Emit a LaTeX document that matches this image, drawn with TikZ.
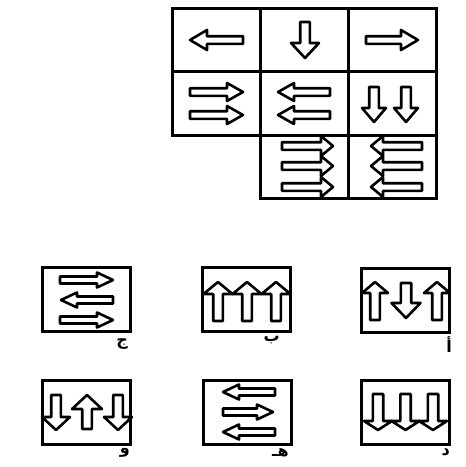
\documentclass[tikz,border=0pt]{standalone}
\usepackage{fontspec}
\usepackage{tikz}
\usetikzlibrary{positioning}
\TeXXeTstate=1
\newfontfamily\arabicfont[Script=Arabic]{DejaVu Sans}

% block arrow: tail, angle, length, shaft half width, head half width, head length
\newcommand{\blockarrow}[6]{%
	\draw[arrowline, shift={#1}, rotate=#2] (0,-#4) -- ({#3-#6},-#4) -- ({#3-#6},-#5) -- (#3,0)
		-- ({#3-#6},#5) -- ({#3-#6},#4) -- (0,#4) -- cycle;}

\begin{document}
\begin{tikzpicture}[x=1pt, y=-1pt,
		cell/.style={draw, line width=3pt, minimum width=88pt, minimum height=63.5pt, inner sep=0pt, outer sep=0pt},
		choice/.style={draw, line width=3pt, minimum width=88pt, minimum height=64pt, inner sep=0pt},
		arrowline/.style={draw, fill=white, line width=2.6pt, line join=round},
		lbl/.style={font=\arabicfont\bfseries\fontsize{16}{16}\selectfont, inner sep=0pt}]
		\useasboundingbox (0,0) rectangle (466,467);

		% the grid
		\node[cell] (g11) at (216,39.75) {};
		\node[cell, right=0pt of g11] (g12) {};
		\node[cell, right=0pt of g12] (g13) {};
		\node[cell, below=0pt of g11] (g21) {};
		\node[cell, below=0pt of g12] (g22) {};
		\node[cell, below=0pt of g13] (g23) {};
		\node[cell, below=0pt of g22] (g32) {};
		\node[cell, below=0pt of g23] (g33) {};

		\blockarrow{(243,40)}{180}{53}{3.8}{10}{17}
		\blockarrow{(305,22)}{-90}{36}{4.8}{14}{15}
		\blockarrow{(366,40)}{0}{52}{3.8}{10}{17}
		\foreach \y in {92,115} {
			\blockarrow{(190,\y)}{0}{53}{3.8}{9}{16}
			\blockarrow{(330,\y)}{180}{52}{3.8}{9}{16}
		}
		\foreach \x in {374,406} {
			\blockarrow{(\x,87)}{-90}{35}{4.8}{12}{14}
		}
		\foreach \y in {146,166,187} {
			\blockarrow{(282,\y)}{0}{51}{3.8}{10}{12}
			\blockarrow{(422,\y)}{180}{51}{3.8}{10}{12}
		}

		% the choices
		\node[choice] (optC) at (86.5,299.5) {};
		\node[choice] (optB) at (246.5,299.5) {};
		\node[choice] (optA) at (405.5,300) {};
		\node[choice] (optF) at (86.5,412) {};
		\node[choice] (optE) at (247.5,412) {};
		\node[choice] (optD) at (405.5,412) {};

		\blockarrow{(60,280)}{0}{53}{3.5}{7.5}{16}
		\blockarrow{(113,300)}{180}{52}{3.5}{7.5}{16}
		\blockarrow{(60,320)}{0}{53}{3.5}{7.5}{16}

		\foreach \x in {218,247,276} {
			\blockarrow{(\x,321)}{90}{39}{4.8}{14.5}{12}
		}

		\blockarrow{(375,320)}{90}{38}{4.8}{13}{11}
		\blockarrow{(406,283)}{-90}{35}{5.2}{14.5}{15}
		\blockarrow{(437,320)}{90}{38}{4.8}{13}{11}

		\blockarrow{(56,395)}{-90}{35}{4.8}{14}{13}
		\blockarrow{(87,429)}{90}{34}{4.8}{15}{14}
		\blockarrow{(118,395)}{-90}{35}{4.8}{14}{13}

		\blockarrow{(275,392)}{180}{52}{3.5}{7.5}{16}
		\blockarrow{(223,412)}{0}{50}{3.5}{7.5}{16}
		\blockarrow{(275,432)}{180}{52}{3.5}{7.5}{16}

		\foreach \x in {378,405.5,433} {
			\blockarrow{(\x,394)}{-90}{36}{5.2}{14}{9}
		}

		% letters
		\node[lbl, anchor=north east] (labA) at ([xshift=1pt, yshift=-3pt]optA.south east) {\beginR أ\endR};
		\node[lbl, anchor=north east] (labB) at ([xshift=-12pt, yshift=-3pt]optB.south east) {\beginR ب\endR};
		\node[lbl, anchor=north east] (labC) at ([xshift=-4pt, yshift=-5pt]optC.south east) {\beginR ج\endR};
		\node[lbl, anchor=north east] (labD) at ([xshift=-1pt, yshift=-3pt]optD.south east) {\beginR د\endR};
		\node[lbl, anchor=north east] (labE) at ([xshift=-4pt, yshift=-3pt]optE.south east) {\beginR هـ\endR};
		\node[lbl, anchor=north east] (labF) at ([xshift=-2pt, yshift=-3pt]optF.south east) {\beginR و\endR};
	\end{tikzpicture}
\end{document}
